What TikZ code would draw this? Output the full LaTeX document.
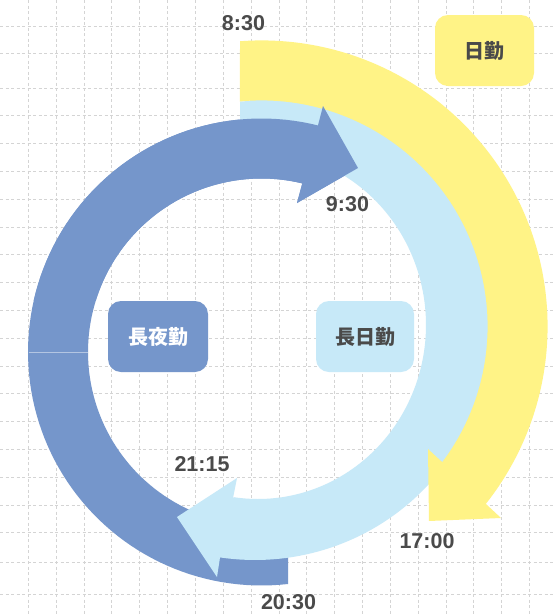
\documentclass[tikz,border=0pt]{standalone}
\usepackage{fontspec}
\setmainfont{Liberation Sans}
\newfontfamily\cjk{Noto Sans CJK JP}
\definecolor{yel}{HTML}{FFF386}
\definecolor{lblue}{HTML}{C7E9F8}
\definecolor{dblue}{HTML}{7596CB}
\definecolor{txt}{HTML}{4A4A4A}
\definecolor{gridc}{HTML}{D4D4D4}
\tikzset{
  gridline/.style={gridc, line width=0.8pt, dash pattern=on 3pt off 2.5pt},
  timelbl/.style={text=txt, font=\fontsize{21.5}{21.5}\selectfont\bfseries, inner sep=0pt},
  shiftbox/.style={rounded corners=13pt, minimum width=100pt, minimum height=71pt, inner sep=0pt, font=\cjk\fontsize{20}{20}\selectfont\bfseries},
}
\newcommand{\DarkArrowPath}{(288,584) -- plot[domain=83.5:284, samples=100] ({261.5+233.5*cos(\x)},{352+233.5*sin(\x)}) -- (323,106) -- (358,168) -- (297,203) -- (302.3,183.4) -- plot[domain=283.6:81.2, samples=100] ({261.5+173.5*cos(\x)},{352+173.5*sin(\x)}) -- cycle}
\begin{document}
\begin{tikzpicture}[x=1pt,y=-1pt]
\useasboundingbox (0,0) rectangle (553,614);
\fill[white] (0,0) rectangle (553,614);
% grid
\foreach \k in {1,...,19} \draw[gridline] ({0.5+27.84*\k},0) -- ({0.5+27.84*\k},614);
\foreach \yy in {26,53,88,115.8,143.6,171.4,199.2,227,254.8,282.6,310.4,338.2,366,393.8,421.6,449.4,477.2,505,532.8,562,594}
  \draw[gridline] (0,\yy) -- (553,\yy);
% dark blue arrow (night)
\fill[dblue] \DarkArrowPath;
% light blue arrow (long day)
\fill[lblue] (240,101.5) -- plot[domain=-93.7:98.6, samples=120] ({255+234*cos(\x)},{330.5+229.5*sin(\x)}) -- (217,577) -- (177,517) -- (237,478) -- (233,498) -- plot[domain=98.2:-95.9, samples=120] ({258+168*cos(\x)},{325+174*sin(\x)}) -- cycle;
% light blue filler under the yellow band (closes the seam)
\fill[lblue] plot[domain=-93:33, samples=100] ({261.6+230*cos(\x)},{326.4+230*sin(\x)}) -- plot[domain=33:-93, samples=100] ({261.6+212*cos(\x)},{326.4+212*sin(\x)}) -- cycle;
% yellow arrow (day)
\fill[yel] (240,41.2) -- plot[domain=-94.33:38.36, samples=120] ({261.6+286*cos(\x)},{326.4+286*sin(\x)}) -- (501,518) -- (429,521) -- (428,449) -- (442.3,462.2) -- plot[domain=36.93:-95.49, samples=120] ({261.6+226*cos(\x)},{326.4+226*sin(\x)}) -- cycle;
% dark blue over light blue at the top
\begin{scope}
  \clip (0,0) rectangle (553,300);
  \fill[dblue] \DarkArrowPath;
\end{scope}
\draw[white, opacity=0.45, line width=0.7pt] (28.5,352) -- (88,352);
% boxes
\node[shiftbox, fill=yel, text=txt, minimum width=99pt] (nikkin) at (484.5,50.5) {日勤};
\node[shiftbox, fill=dblue, text=white] (choyakin) at (158,336.5) {長夜勤};
\node[shiftbox, fill=lblue, text=txt, minimum width=98pt] (chonikkin) at (365,336.5) {長日勤};
% time labels
\node[timelbl] (t830) at (243.5,23) {8:30};
\node[timelbl] (t930) at (347.5,204) {9:30};
\node[timelbl] (t2115) at (202,464) {21:15};
\node[timelbl] (t2030) at (288.5,602.5) {20:30};
\node[timelbl] (t1700) at (427,541.5) {17:00};
\end{tikzpicture}
\end{document}
